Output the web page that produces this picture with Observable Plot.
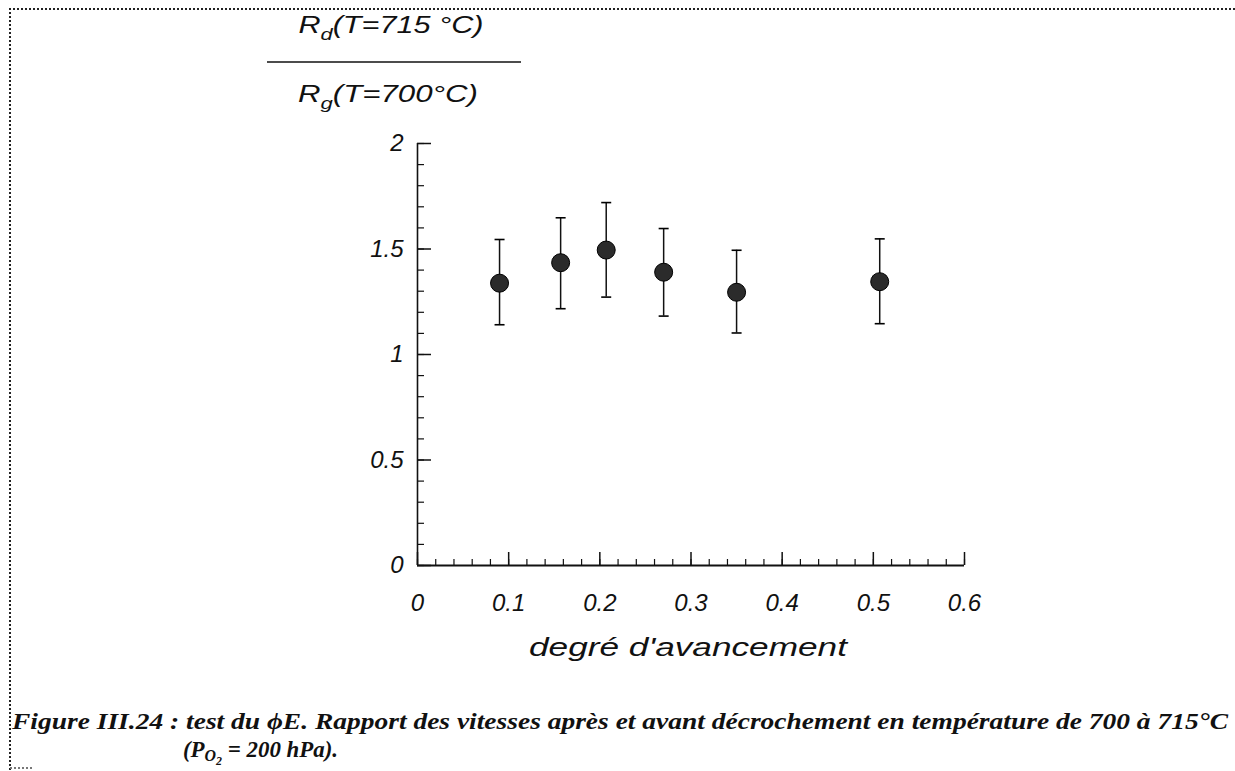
<!DOCTYPE html>
<html><head><meta charset="utf-8">
<script src="https://cdn.jsdelivr.net/npm/d3@7"></script>
<script src="https://cdn.jsdelivr.net/npm/@observablehq/plot@0.6"></script>
<style>
html,body{margin:0;padding:0;background:#fff;}
#page{position:relative;width:1235px;height:771px;overflow:hidden;background:#fff;}
#chart{position:absolute;left:0;top:0;}
.overlay{position:absolute;left:0;top:0;pointer-events:none;}
</style></head><body>
<div id="page">
  <div id="chart"></div>
  <svg class="overlay" width="1235" height="771" font-family="'Liberation Sans', Arial, sans-serif">
    <g stroke="#222" stroke-width="2" stroke-dasharray="2 2" fill="none">
      <line x1="9" x2="1235" y1="9" y2="9"/>
      <line x1="10" x2="10" y1="8" y2="771"/>
      <line x1="10" x2="34" y1="768" y2="768" stroke="#777"/>
    </g>
    <text x="391" y="33" text-anchor="middle" font-style="italic" font-size="24" fill="#111" textLength="185" lengthAdjust="spacingAndGlyphs">R<tspan dy="7" font-size="17">d</tspan><tspan dy="-7">(T=715 °C)</tspan></text>
    <line x1="267" x2="521" y1="62" y2="62" stroke="#111" stroke-width="1.6"/>
    <text x="388" y="102" text-anchor="middle" font-style="italic" font-size="24" fill="#111" textLength="180" lengthAdjust="spacingAndGlyphs">R<tspan dy="7" font-size="17">g</tspan><tspan dy="-7">(T=700°C)</tspan></text>
    <text x="688" y="656" text-anchor="middle" font-style="italic" font-size="26" fill="#111" textLength="318" lengthAdjust="spacingAndGlyphs">degré d'avancement</text>
    <g font-family="'Liberation Serif', 'Times New Roman', serif" font-weight="bold" font-style="italic" fill="#111">
      <text x="12" y="729" font-size="23" textLength="1216" lengthAdjust="spacingAndGlyphs">Figure III.24 : test du ϕE. Rapport des vitesses après et avant décrochement en température de 700 à 715°C</text>
      <text x="183" y="757" font-size="23" textLength="155" lengthAdjust="spacingAndGlyphs">(P<tspan dy="4" font-size="16">O</tspan><tspan dy="4" font-size="12">2</tspan><tspan dy="-8"> = 200 hPa).</tspan></text>
    </g>
  </svg>
</div>
<script>
// Data
const xVals = [0.09, 0.157, 0.207, 0.27, 0.35, 0.507];
const yVals = [1.338, 1.435, 1.495, 1.39, 1.295, 1.345];
const yHigh = [1.545, 1.648, 1.72, 1.597, 1.494, 1.548];
const yLow  = [1.141, 1.217, 1.272, 1.182, 1.102, 1.146];

const xMajor = [0, 0.1, 0.2, 0.3, 0.4, 0.5, 0.6];
const xTickLabels = ["0", "0.1", "0.2", "0.3", "0.4", "0.5", "0.6"];
const yMajor = [0, 0.5, 1, 1.5, 2];
const yTickLabels = ["0", "0.5", "1", "1.5", "2"];
const xMinor = d3.range(0, 0.6001, 0.02);
const yMinor = d3.range(0, 2.0001, 0.1);

const data = xVals.map((x, i) => ({x, y: yVals[i], lo: yLow[i], hi: yHigh[i]}));

const capSymbol = {
  draw(context, size) {
    const w = Math.sqrt(size / Math.PI);
    context.moveTo(-w, 0);
    context.lineTo(w, 0);
  }
};

const chart = Plot.plot({
  width: 1235,
  height: 771,
  marginLeft: 417,
  marginRight: 271,
  marginTop: 143,
  marginBottom: 206,
  x: {domain: [0, 0.6]},
  y: {domain: [0, 2]},
  style: {fontFamily: "'Liberation Sans', Arial, sans-serif", fontSize: "24px", fontStyle: "italic", background: "transparent", color: "#111"},
  marks: [
    Plot.axisX(xMinor, {tickSize: -6, tickFormat: () => "", label: null, strokeWidth: 1.2}),
    Plot.axisX(xMajor, {tickSize: -13, tickFormat: () => "", label: null, strokeWidth: 1.5}),
    Plot.axisX(xMajor, {tickSize: 0, tickPadding: 28, tickFormat: d => xTickLabels[xMajor.indexOf(d)], label: null}),
    Plot.axisY(yMinor, {tickSize: -7, tickFormat: () => "", label: null, strokeWidth: 1.2}),
    Plot.axisY(yMajor, {tickSize: -14, tickFormat: () => "", label: null, strokeWidth: 1.5}),
    Plot.axisY(yMajor, {tickSize: 0, tickPadding: 14, tickFormat: d => yTickLabels[yMajor.indexOf(d)], label: null}),
    Plot.ruleX([0], {strokeWidth: 1.6}),
    Plot.ruleY([0], {strokeWidth: 2}),
    Plot.ruleX(data, {x: "x", y1: "lo", y2: "hi", strokeWidth: 1.5}),
    Plot.dot(data, {x: "x", y: "hi", r: 5, symbol: capSymbol, stroke: "#000", strokeWidth: 1.6, fill: "none"}),
    Plot.dot(data, {x: "x", y: "lo", r: 5, symbol: capSymbol, stroke: "#000", strokeWidth: 1.6, fill: "none"}),
    Plot.dot(data, {x: "x", y: "y", r: 9, fill: "#2b2b2b", stroke: "#000", strokeWidth: 1})
  ]
});
document.getElementById("chart").appendChild(chart);
</script>
</body></html>
